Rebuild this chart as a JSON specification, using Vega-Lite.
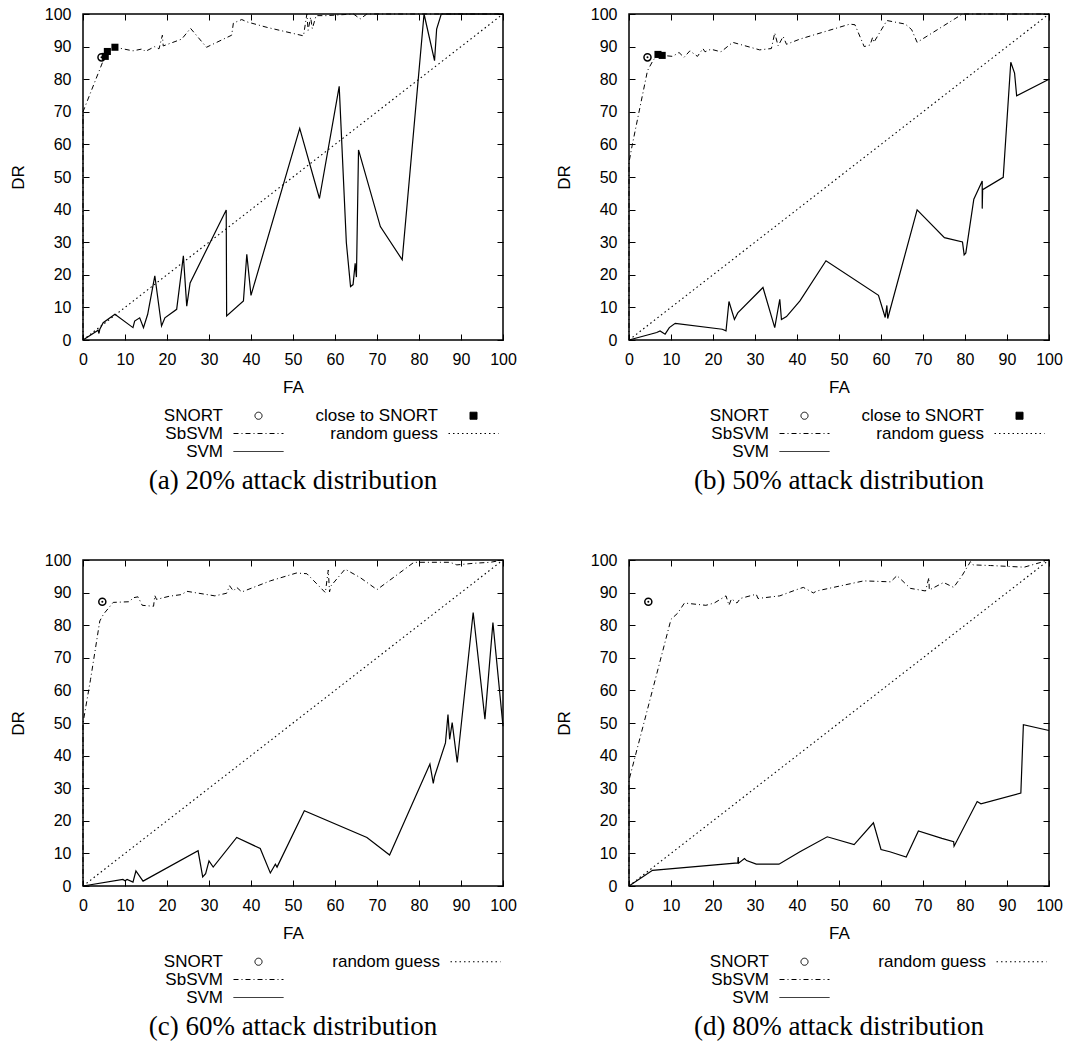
{
"$schema": "https://vega.github.io/schema/vega-lite/v6.json",
"background": "white",
"padding": {"left": 8, "top": 5, "right": 5, "bottom": 5},
"config": {
  "view": {"stroke": "black", "strokeWidth": 1.5},
  "axis": {"domain": false, "grid": false, "tickSize": -6, "tickColor": "black", "tickWidth": 1, "tickCount": 10,
    "labelFont": "Liberation Sans", "labelFontSize": 16, "labelColor": "black", "labelFlush": false, "labelOverlap": false,
    "titleFont": "Liberation Sans", "titleFontSize": 17, "titleFontWeight": "normal", "titleColor": "black"},
  "axisX": {"labelPadding": 17, "titlePadding": 12},
  "axisY": {"labelPadding": 18, "titlePadding": 17},
  "title": {"font": "Liberation Serif", "fontSize": 27, "fontWeight": "normal", "color": "black", "orient": "bottom", "frame": "group", "anchor": "middle", "offset": 8},
  "legend": {"orient": "none", "legendX": 167, "legendY": 393, "columns": 2, "title": null, "padding": 0,
    "labelFont": "Liberation Sans", "labelFontSize": 17, "labelColor": "black", "labelAlign": "right", "labelOffset": -44, "labelLimit": 300,
    "symbolSize": 50, "symbolOffset": 0, "rowPadding": 0, "columnPadding": 29}
},
"data": {"values": [
{"p":"a","s":"random guess","fa":0,"dr":0},{"p":"a","s":"random guess","fa":100,"dr":100},
{"p":"b","s":"random guess","fa":0,"dr":0},{"p":"b","s":"random guess","fa":100,"dr":100},
{"p":"c","s":"random guess","fa":0,"dr":0},{"p":"c","s":"random guess","fa":100,"dr":100},
{"p":"d","s":"random guess","fa":0,"dr":0},{"p":"d","s":"random guess","fa":100,"dr":100},
{"p":"a","s":"SNORT","fa":4.4,"dr":86.7},{"p":"b","s":"SNORT","fa":4.4,"dr":86.7},{"p":"c","s":"SNORT","fa":4.6,"dr":87.2},{"p":"d","s":"SNORT","fa":4.6,"dr":87.2},
{"p":"a","s":"close to SNORT","fa":5.3,"dr":87},{"p":"a","s":"close to SNORT","fa":5.8,"dr":88.5},{"p":"a","s":"close to SNORT","fa":7.6,"dr":89.8},
{"p":"b","s":"close to SNORT","fa":6.9,"dr":87.6},{"p":"b","s":"close to SNORT","fa":7.9,"dr":87.3},
{"p":"a","s":"SbSVM","fa":0,"dr":0},{"p":"a","s":"SbSVM","fa":0,"dr":70},{"p":"a","s":"SbSVM","fa":4.6,"dr":85},{"p":"a","s":"SbSVM","fa":5.3,"dr":87},{"p":"a","s":"SbSVM","fa":5.8,"dr":88.5},{"p":"a","s":"SbSVM","fa":7.6,"dr":89.8},{"p":"a","s":"SbSVM","fa":11.9,"dr":88.7},{"p":"a","s":"SbSVM","fa":14.2,"dr":89.3},{"p":"a","s":"SbSVM","fa":14.8,"dr":88.5},{"p":"a","s":"SbSVM","fa":17.1,"dr":90},{"p":"a","s":"SbSVM","fa":18.1,"dr":89.3},{"p":"a","s":"SbSVM","fa":18.9,"dr":93.5},{"p":"a","s":"SbSVM","fa":19.1,"dr":90.2},{"p":"a","s":"SbSVM","fa":23.5,"dr":92.3},{"p":"a","s":"SbSVM","fa":25.6,"dr":95.6},{"p":"a","s":"SbSVM","fa":29.4,"dr":89.8},{"p":"a","s":"SbSVM","fa":35.4,"dr":93.5},{"p":"a","s":"SbSVM","fa":35.8,"dr":97.2},{"p":"a","s":"SbSVM","fa":37.8,"dr":98.3},{"p":"a","s":"SbSVM","fa":39,"dr":97.6},{"p":"a","s":"SbSVM","fa":43.8,"dr":95.9},{"p":"a","s":"SbSVM","fa":52.5,"dr":93.3},{"p":"a","s":"SbSVM","fa":53.3,"dr":100},{"p":"a","s":"SbSVM","fa":53.6,"dr":95},{"p":"a","s":"SbSVM","fa":54.2,"dr":99},{"p":"a","s":"SbSVM","fa":54.6,"dr":95.5},{"p":"a","s":"SbSVM","fa":55.5,"dr":99.5},{"p":"a","s":"SbSVM","fa":58,"dr":99.5},{"p":"a","s":"SbSVM","fa":64.4,"dr":100},{"p":"a","s":"SbSVM","fa":66,"dr":98.5},{"p":"a","s":"SbSVM","fa":67.6,"dr":100},{"p":"a","s":"SbSVM","fa":100,"dr":100},
{"p":"a","s":"SVM","fa":0,"dr":0},{"p":"a","s":"SVM","fa":3.6,"dr":3},{"p":"a","s":"SVM","fa":3.8,"dr":2},{"p":"a","s":"SVM","fa":4,"dr":3.3},{"p":"a","s":"SVM","fa":4.8,"dr":5.3},{"p":"a","s":"SVM","fa":7.6,"dr":7.9},{"p":"a","s":"SVM","fa":11.9,"dr":3.8},{"p":"a","s":"SVM","fa":12.3,"dr":5.8},{"p":"a","s":"SVM","fa":13.5,"dr":6.8},{"p":"a","s":"SVM","fa":14.4,"dr":3.8},{"p":"a","s":"SVM","fa":15.4,"dr":7.9},{"p":"a","s":"SVM","fa":17.1,"dr":19.7},{"p":"a","s":"SVM","fa":18.7,"dr":4.3},{"p":"a","s":"SVM","fa":19.5,"dr":6.8},{"p":"a","s":"SVM","fa":22.3,"dr":9.4},{"p":"a","s":"SVM","fa":23.9,"dr":25.8},{"p":"a","s":"SVM","fa":24.7,"dr":10.4},{"p":"a","s":"SVM","fa":25.5,"dr":17.5},{"p":"a","s":"SVM","fa":34.1,"dr":39.9},{"p":"a","s":"SVM","fa":34.2,"dr":7.4},{"p":"a","s":"SVM","fa":38.2,"dr":12},{"p":"a","s":"SVM","fa":39,"dr":26.3},{"p":"a","s":"SVM","fa":40,"dr":13.7},{"p":"a","s":"SVM","fa":51.6,"dr":64.9},{"p":"a","s":"SVM","fa":56.3,"dr":43.4},{"p":"a","s":"SVM","fa":61,"dr":77.8},{"p":"a","s":"SVM","fa":62.7,"dr":29.9},{"p":"a","s":"SVM","fa":63.7,"dr":16.4},{"p":"a","s":"SVM","fa":64.3,"dr":17},{"p":"a","s":"SVM","fa":64.8,"dr":23.5},{"p":"a","s":"SVM","fa":65.1,"dr":19.3},{"p":"a","s":"SVM","fa":65.6,"dr":58.3},{"p":"a","s":"SVM","fa":70.8,"dr":34.8},{"p":"a","s":"SVM","fa":76,"dr":24.6},{"p":"a","s":"SVM","fa":81.2,"dr":100},{"p":"a","s":"SVM","fa":83.7,"dr":85.7},{"p":"a","s":"SVM","fa":84.2,"dr":95.4},{"p":"a","s":"SVM","fa":85.3,"dr":100},{"p":"a","s":"SVM","fa":100,"dr":100},
{"p":"b","s":"SbSVM","fa":0,"dr":0},{"p":"b","s":"SbSVM","fa":0,"dr":54.5},{"p":"b","s":"SbSVM","fa":0.8,"dr":60},{"p":"b","s":"SbSVM","fa":4.4,"dr":82.6},{"p":"b","s":"SbSVM","fa":5.7,"dr":85.7},{"p":"b","s":"SbSVM","fa":6.9,"dr":87.6},{"p":"b","s":"SbSVM","fa":7.9,"dr":87.3},{"p":"b","s":"SbSVM","fa":10.4,"dr":87},{"p":"b","s":"SbSVM","fa":11.9,"dr":88.2},{"p":"b","s":"SbSVM","fa":13.1,"dr":86.7},{"p":"b","s":"SbSVM","fa":14.5,"dr":88.7},{"p":"b","s":"SbSVM","fa":16.3,"dr":87},{"p":"b","s":"SbSVM","fa":17.6,"dr":89.4},{"p":"b","s":"SbSVM","fa":18.1,"dr":88.4},{"p":"b","s":"SbSVM","fa":19.5,"dr":89.2},{"p":"b","s":"SbSVM","fa":21.9,"dr":88.4},{"p":"b","s":"SbSVM","fa":24.7,"dr":91.3},{"p":"b","s":"SbSVM","fa":31.1,"dr":89},{"p":"b","s":"SbSVM","fa":33.9,"dr":89.4},{"p":"b","s":"SbSVM","fa":34.7,"dr":94.2},{"p":"b","s":"SbSVM","fa":35.5,"dr":90.2},{"p":"b","s":"SbSVM","fa":36.7,"dr":93.1},{"p":"b","s":"SbSVM","fa":37.5,"dr":90.7},{"p":"b","s":"SbSVM","fa":40.7,"dr":92.3},{"p":"b","s":"SbSVM","fa":52.6,"dr":96.9},{"p":"b","s":"SbSVM","fa":53.8,"dr":96.7},{"p":"b","s":"SbSVM","fa":56,"dr":90},{"p":"b","s":"SbSVM","fa":57.4,"dr":90.5},{"p":"b","s":"SbSVM","fa":58,"dr":92.8},{"p":"b","s":"SbSVM","fa":58.3,"dr":91.3},{"p":"b","s":"SbSVM","fa":61.4,"dr":98},{"p":"b","s":"SbSVM","fa":65.8,"dr":96.9},{"p":"b","s":"SbSVM","fa":67.3,"dr":95.2},{"p":"b","s":"SbSVM","fa":68.6,"dr":91.3},{"p":"b","s":"SbSVM","fa":79.4,"dr":100},{"p":"b","s":"SbSVM","fa":100,"dr":100},
{"p":"b","s":"SVM","fa":0,"dr":0},{"p":"b","s":"SVM","fa":6.6,"dr":2.3},{"p":"b","s":"SVM","fa":7.4,"dr":2.8},{"p":"b","s":"SVM","fa":8.6,"dr":1.8},{"p":"b","s":"SVM","fa":9.6,"dr":3.8},{"p":"b","s":"SVM","fa":11,"dr":5.1},{"p":"b","s":"SVM","fa":22.2,"dr":3.3},{"p":"b","s":"SVM","fa":23.1,"dr":2.8},{"p":"b","s":"SVM","fa":23.8,"dr":11.8},{"p":"b","s":"SVM","fa":25.1,"dr":6.3},{"p":"b","s":"SVM","fa":25.9,"dr":8.3},{"p":"b","s":"SVM","fa":31.9,"dr":16.1},{"p":"b","s":"SVM","fa":34.7,"dr":3.8},{"p":"b","s":"SVM","fa":35.9,"dr":12.5},{"p":"b","s":"SVM","fa":36.3,"dr":6.3},{"p":"b","s":"SVM","fa":37.5,"dr":7.2},{"p":"b","s":"SVM","fa":40.7,"dr":12},{"p":"b","s":"SVM","fa":46.9,"dr":24.3},{"p":"b","s":"SVM","fa":59.4,"dr":13.7},{"p":"b","s":"SVM","fa":61,"dr":6.9},{"p":"b","s":"SVM","fa":61.4,"dr":10.6},{"p":"b","s":"SVM","fa":61.6,"dr":6.6},{"p":"b","s":"SVM","fa":68.6,"dr":39.9},{"p":"b","s":"SVM","fa":75.1,"dr":31.4},{"p":"b","s":"SVM","fa":79.4,"dr":30.1},{"p":"b","s":"SVM","fa":79.8,"dr":26.1},{"p":"b","s":"SVM","fa":80.2,"dr":26.7},{"p":"b","s":"SVM","fa":82.1,"dr":43.2},{"p":"b","s":"SVM","fa":84.1,"dr":48.8},{"p":"b","s":"SVM","fa":84.1,"dr":40.3},{"p":"b","s":"SVM","fa":84.2,"dr":46.1},{"p":"b","s":"SVM","fa":89.1,"dr":49.9},{"p":"b","s":"SVM","fa":90.9,"dr":85.2},{"p":"b","s":"SVM","fa":91.8,"dr":81.9},{"p":"b","s":"SVM","fa":92.3,"dr":74.9},{"p":"b","s":"SVM","fa":100,"dr":80},
{"p":"c","s":"SbSVM","fa":0,"dr":0},{"p":"c","s":"SbSVM","fa":0,"dr":50},{"p":"c","s":"SbSVM","fa":1.8,"dr":63.4},{"p":"c","s":"SbSVM","fa":4,"dr":81.3},{"p":"c","s":"SbSVM","fa":4.9,"dr":83.4},{"p":"c","s":"SbSVM","fa":7.2,"dr":87},{"p":"c","s":"SbSVM","fa":11.1,"dr":87.2},{"p":"c","s":"SbSVM","fa":11.9,"dr":88.4},{"p":"c","s":"SbSVM","fa":13.1,"dr":88.7},{"p":"c","s":"SbSVM","fa":14.1,"dr":86.1},{"p":"c","s":"SbSVM","fa":16.8,"dr":85.8},{"p":"c","s":"SbSVM","fa":17.1,"dr":89.1},{"p":"c","s":"SbSVM","fa":17.5,"dr":87.9},{"p":"c","s":"SbSVM","fa":20.6,"dr":88.9},{"p":"c","s":"SbSVM","fa":23.5,"dr":89.4},{"p":"c","s":"SbSVM","fa":24.7,"dr":90.4},{"p":"c","s":"SbSVM","fa":31.4,"dr":89},{"p":"c","s":"SbSVM","fa":34.2,"dr":89.8},{"p":"c","s":"SbSVM","fa":34.9,"dr":92.1},{"p":"c","s":"SbSVM","fa":35.8,"dr":90.5},{"p":"c","s":"SbSVM","fa":36.6,"dr":91.6},{"p":"c","s":"SbSVM","fa":37.8,"dr":90.2},{"p":"c","s":"SbSVM","fa":44.6,"dr":93.6},{"p":"c","s":"SbSVM","fa":50.8,"dr":96},{"p":"c","s":"SbSVM","fa":53.3,"dr":95.8},{"p":"c","s":"SbSVM","fa":57.7,"dr":90},{"p":"c","s":"SbSVM","fa":58.4,"dr":96.9},{"p":"c","s":"SbSVM","fa":58.7,"dr":90.2},{"p":"c","s":"SbSVM","fa":59,"dr":92},{"p":"c","s":"SbSVM","fa":62.4,"dr":97.2},{"p":"c","s":"SbSVM","fa":66,"dr":94.6},{"p":"c","s":"SbSVM","fa":70,"dr":90.9},{"p":"c","s":"SbSVM","fa":78.8,"dr":99.3},{"p":"c","s":"SbSVM","fa":87.4,"dr":99.3},{"p":"c","s":"SbSVM","fa":89,"dr":98.5},{"p":"c","s":"SbSVM","fa":93.1,"dr":99},{"p":"c","s":"SbSVM","fa":97,"dr":99.3},{"p":"c","s":"SbSVM","fa":100,"dr":100},
{"p":"c","s":"SVM","fa":0,"dr":0},{"p":"c","s":"SVM","fa":9.5,"dr":2},{"p":"c","s":"SVM","fa":10,"dr":1.6},{"p":"c","s":"SVM","fa":10.5,"dr":2},{"p":"c","s":"SVM","fa":11.9,"dr":1.2},{"p":"c","s":"SVM","fa":12.6,"dr":4.6},{"p":"c","s":"SVM","fa":14.3,"dr":1.5},{"p":"c","s":"SVM","fa":27.4,"dr":10.8},{"p":"c","s":"SVM","fa":28.5,"dr":2.8},{"p":"c","s":"SVM","fa":29.2,"dr":3.8},{"p":"c","s":"SVM","fa":30,"dr":7.7},{"p":"c","s":"SVM","fa":31,"dr":5.8},{"p":"c","s":"SVM","fa":36.6,"dr":14.9},{"p":"c","s":"SVM","fa":42.2,"dr":11.5},{"p":"c","s":"SVM","fa":44.6,"dr":4},{"p":"c","s":"SVM","fa":45.8,"dr":6.7},{"p":"c","s":"SVM","fa":46.2,"dr":5.8},{"p":"c","s":"SVM","fa":52.7,"dr":23.1},{"p":"c","s":"SVM","fa":67.6,"dr":14.9},{"p":"c","s":"SVM","fa":73,"dr":9.5},{"p":"c","s":"SVM","fa":82.6,"dr":37.4},{"p":"c","s":"SVM","fa":83.4,"dr":31.5},{"p":"c","s":"SVM","fa":83.7,"dr":33.6},{"p":"c","s":"SVM","fa":86.3,"dr":43.9},{"p":"c","s":"SVM","fa":86.9,"dr":52.6},{"p":"c","s":"SVM","fa":87.3,"dr":45},{"p":"c","s":"SVM","fa":87.9,"dr":50.1},{"p":"c","s":"SVM","fa":89.1,"dr":37.9},{"p":"c","s":"SVM","fa":92.9,"dr":83.9},{"p":"c","s":"SVM","fa":95.7,"dr":51.2},{"p":"c","s":"SVM","fa":97.6,"dr":80.8},{"p":"c","s":"SVM","fa":100,"dr":49},
{"p":"d","s":"SbSVM","fa":0,"dr":0},{"p":"d","s":"SbSVM","fa":0,"dr":32.5},{"p":"d","s":"SbSVM","fa":10,"dr":81.8},{"p":"d","s":"SbSVM","fa":11.6,"dr":83.7},{"p":"d","s":"SbSVM","fa":13.2,"dr":86.8},{"p":"d","s":"SbSVM","fa":18.3,"dr":86.1},{"p":"d","s":"SbSVM","fa":20.3,"dr":86.8},{"p":"d","s":"SbSVM","fa":23.1,"dr":89},{"p":"d","s":"SbSVM","fa":23.8,"dr":86.1},{"p":"d","s":"SbSVM","fa":24.4,"dr":88.1},{"p":"d","s":"SbSVM","fa":25.7,"dr":86.8},{"p":"d","s":"SbSVM","fa":26.5,"dr":88.2},{"p":"d","s":"SbSVM","fa":30.3,"dr":89.5},{"p":"d","s":"SbSVM","fa":30.7,"dr":88.2},{"p":"d","s":"SbSVM","fa":35.9,"dr":89},{"p":"d","s":"SbSVM","fa":39.9,"dr":90.9},{"p":"d","s":"SbSVM","fa":41.5,"dr":91.6},{"p":"d","s":"SbSVM","fa":43.9,"dr":89.9},{"p":"d","s":"SbSVM","fa":44.7,"dr":90.5},{"p":"d","s":"SbSVM","fa":55.9,"dr":93.6},{"p":"d","s":"SbSVM","fa":62.3,"dr":93.3},{"p":"d","s":"SbSVM","fa":63.8,"dr":95.2},{"p":"d","s":"SbSVM","fa":67,"dr":91.3},{"p":"d","s":"SbSVM","fa":70.6,"dr":90.5},{"p":"d","s":"SbSVM","fa":71.4,"dr":94.6},{"p":"d","s":"SbSVM","fa":71.5,"dr":90.8},{"p":"d","s":"SbSVM","fa":74.9,"dr":93.1},{"p":"d","s":"SbSVM","fa":77.3,"dr":91.6},{"p":"d","s":"SbSVM","fa":79.3,"dr":95.2},{"p":"d","s":"SbSVM","fa":81.3,"dr":99.5},{"p":"d","s":"SbSVM","fa":81.9,"dr":98.5},{"p":"d","s":"SbSVM","fa":86.1,"dr":98.3},{"p":"d","s":"SbSVM","fa":94.1,"dr":97.8},{"p":"d","s":"SbSVM","fa":100,"dr":100},
{"p":"d","s":"SVM","fa":0,"dr":0},{"p":"d","s":"SVM","fa":5.6,"dr":4.8},{"p":"d","s":"SVM","fa":25.9,"dr":7.1},{"p":"d","s":"SVM","fa":26,"dr":8.9},{"p":"d","s":"SVM","fa":26.1,"dr":7},{"p":"d","s":"SVM","fa":27.5,"dr":8.4},{"p":"d","s":"SVM","fa":28,"dr":7.8},{"p":"d","s":"SVM","fa":30.3,"dr":6.7},{"p":"d","s":"SVM","fa":35.7,"dr":6.7},{"p":"d","s":"SVM","fa":40.7,"dr":10.5},{"p":"d","s":"SVM","fa":47.2,"dr":15.1},{"p":"d","s":"SVM","fa":53.6,"dr":12.7},{"p":"d","s":"SVM","fa":58.2,"dr":19.4},{"p":"d","s":"SVM","fa":60,"dr":11.2},{"p":"d","s":"SVM","fa":62.1,"dr":10.5},{"p":"d","s":"SVM","fa":66,"dr":8.9},{"p":"d","s":"SVM","fa":68.9,"dr":16.9},{"p":"d","s":"SVM","fa":74.5,"dr":14.6},{"p":"d","s":"SVM","fa":77.3,"dr":13.6},{"p":"d","s":"SVM","fa":77.4,"dr":12.2},{"p":"d","s":"SVM","fa":82.9,"dr":25.9},{"p":"d","s":"SVM","fa":83.8,"dr":25.2},{"p":"d","s":"SVM","fa":93.3,"dr":28.5},{"p":"d","s":"SVM","fa":93.9,"dr":49.5},{"p":"d","s":"SVM","fa":100,"dr":47.7}
]},
"columns": 2,
"spacing": {"row": 56, "column": 36},
"resolve": {"scale": {"color": "independent"}, "legend": {"color": "independent"}},
"concat": [
 {"width": 420, "height": 326, "title": {"text": "(a) 20% attack distribution"},
  "transform": [{"filter": "datum.p === 'a'"}],
  "resolve": {"axis": {"x": "independent", "y": "independent"}},
  "layer": [
   {"transform": [{"filter": "datum.s === 'random guess'"}], "mark": {"type": "line", "strokeDash": [1.5, 3], "strokeWidth": 1.1},
    "encoding": {"x": {"field": "fa", "type": "quantitative", "scale": {"domain": [0, 100], "nice": false}, "axis": {"title": "FA", "orient": "bottom"}},
      "y": {"field": "dr", "type": "quantitative", "scale": {"domain": [0, 100], "nice": false}, "axis": {"title": "DR", "orient": "left"}},
      "color": {"field": "s", "type": "nominal", "scale": {"domain": ["SNORT", "SbSVM", "SVM", "close to SNORT", "random guess"], "range": ["black", "black", "black", "black", "black"]},
        "legend": {"columnPadding": 29, "encode": {"symbols": {"update": {
          "shape": {"signal": "datum.value === 'SNORT' ? 'circle' : datum.value === 'close to SNORT' ? 'square' : 'M-7.07,0H7.07'"},
          "strokeDash": {"signal": "datum.value === 'SbSVM' ? [5,3,1,3] : datum.value === 'random guess' ? [1.5,3] : [1,0]"},
          "fill": {"signal": "datum.value === 'close to SNORT' ? 'black' : 'transparent'"},
          "fillOpacity": {"signal": "datum.value === 'close to SNORT' ? 1 : 0"},
          "stroke": {"value": "black"}, "strokeWidth": {"value": 1},
          "opacity": {"signal": "datum.value === '' ? 0 : 1"}}}}}},
      "order": {"value": null}}},
   {"transform": [{"filter": "datum.s === 'SbSVM'"}], "mark": {"type": "line", "strokeDash": [5, 3, 1, 3], "strokeWidth": 1},
    "encoding": {"x": {"field": "fa", "type": "quantitative", "axis": {"orient": "top", "labels": false, "title": null}},
      "y": {"field": "dr", "type": "quantitative", "axis": {"orient": "right", "labels": false, "title": null}},
      "color": {"field": "s", "type": "nominal"}, "order": {"value": null}}},
   {"transform": [{"filter": "datum.s === 'SVM'"}], "mark": {"type": "line", "strokeWidth": 1.2},
    "encoding": {"x": {"field": "fa", "type": "quantitative", "axis": null}, "y": {"field": "dr", "type": "quantitative", "axis": null},
      "color": {"field": "s", "type": "nominal"}, "order": {"value": null}}},
   {"transform": [{"filter": "datum.s === 'SNORT'"}], "mark": {"type": "point", "shape": "circle", "filled": false, "size": 50, "strokeWidth": 1.5, "opacity": 1},
    "encoding": {"x": {"field": "fa", "type": "quantitative", "axis": null}, "y": {"field": "dr", "type": "quantitative", "axis": null}, "color": {"field": "s", "type": "nominal"}}},
   {"transform": [{"filter": "datum.s === 'SNORT'"}], "mark": {"type": "point", "shape": "circle", "filled": true, "size": 4, "opacity": 1},
    "encoding": {"x": {"field": "fa", "type": "quantitative", "axis": null}, "y": {"field": "dr", "type": "quantitative", "axis": null}, "color": {"field": "s", "type": "nominal"}}},
   {"transform": [{"filter": "datum.s === 'close to SNORT'"}], "mark": {"type": "point", "shape": "square", "filled": true, "size": 50, "opacity": 1},
    "encoding": {"x": {"field": "fa", "type": "quantitative", "axis": null}, "y": {"field": "dr", "type": "quantitative", "axis": null}, "color": {"field": "s", "type": "nominal"}}}
  ]},
 {"width": 420, "height": 326, "title": {"text": "(b) 50% attack distribution"},
  "transform": [{"filter": "datum.p === 'b'"}],
  "resolve": {"axis": {"x": "independent", "y": "independent"}},
  "layer": [
   {"transform": [{"filter": "datum.s === 'random guess'"}], "mark": {"type": "line", "strokeDash": [1.5, 3], "strokeWidth": 1.1},
    "encoding": {"x": {"field": "fa", "type": "quantitative", "scale": {"domain": [0, 100], "nice": false}, "axis": {"title": "FA", "orient": "bottom"}},
      "y": {"field": "dr", "type": "quantitative", "scale": {"domain": [0, 100], "nice": false}, "axis": {"title": "DR", "orient": "left"}},
      "color": {"field": "s", "type": "nominal", "scale": {"domain": ["SNORT", "SbSVM", "SVM", "close to SNORT", "random guess"], "range": ["black", "black", "black", "black", "black"]},
        "legend": {"columnPadding": 29, "encode": {"symbols": {"update": {
          "shape": {"signal": "datum.value === 'SNORT' ? 'circle' : datum.value === 'close to SNORT' ? 'square' : 'M-7.07,0H7.07'"},
          "strokeDash": {"signal": "datum.value === 'SbSVM' ? [5,3,1,3] : datum.value === 'random guess' ? [1.5,3] : [1,0]"},
          "fill": {"signal": "datum.value === 'close to SNORT' ? 'black' : 'transparent'"},
          "fillOpacity": {"signal": "datum.value === 'close to SNORT' ? 1 : 0"},
          "stroke": {"value": "black"}, "strokeWidth": {"value": 1},
          "opacity": {"signal": "datum.value === '' ? 0 : 1"}}}}}},
      "order": {"value": null}}},
   {"transform": [{"filter": "datum.s === 'SbSVM'"}], "mark": {"type": "line", "strokeDash": [5, 3, 1, 3], "strokeWidth": 1},
    "encoding": {"x": {"field": "fa", "type": "quantitative", "axis": {"orient": "top", "labels": false, "title": null}},
      "y": {"field": "dr", "type": "quantitative", "axis": {"orient": "right", "labels": false, "title": null}},
      "color": {"field": "s", "type": "nominal"}, "order": {"value": null}}},
   {"transform": [{"filter": "datum.s === 'SVM'"}], "mark": {"type": "line", "strokeWidth": 1.2},
    "encoding": {"x": {"field": "fa", "type": "quantitative", "axis": null}, "y": {"field": "dr", "type": "quantitative", "axis": null},
      "color": {"field": "s", "type": "nominal"}, "order": {"value": null}}},
   {"transform": [{"filter": "datum.s === 'SNORT'"}], "mark": {"type": "point", "shape": "circle", "filled": false, "size": 50, "strokeWidth": 1.5, "opacity": 1},
    "encoding": {"x": {"field": "fa", "type": "quantitative", "axis": null}, "y": {"field": "dr", "type": "quantitative", "axis": null}, "color": {"field": "s", "type": "nominal"}}},
   {"transform": [{"filter": "datum.s === 'SNORT'"}], "mark": {"type": "point", "shape": "circle", "filled": true, "size": 4, "opacity": 1},
    "encoding": {"x": {"field": "fa", "type": "quantitative", "axis": null}, "y": {"field": "dr", "type": "quantitative", "axis": null}, "color": {"field": "s", "type": "nominal"}}},
   {"transform": [{"filter": "datum.s === 'close to SNORT'"}], "mark": {"type": "point", "shape": "square", "filled": true, "size": 50, "opacity": 1},
    "encoding": {"x": {"field": "fa", "type": "quantitative", "axis": null}, "y": {"field": "dr", "type": "quantitative", "axis": null}, "color": {"field": "s", "type": "nominal"}}}
  ]},
 {"width": 420, "height": 326, "title": {"text": "(c) 60% attack distribution"},
  "transform": [{"filter": "datum.p === 'c'"}],
  "resolve": {"axis": {"x": "independent", "y": "independent"}},
  "layer": [
   {"transform": [{"filter": "datum.s === 'random guess'"}], "mark": {"type": "line", "strokeDash": [1.5, 3], "strokeWidth": 1.1},
    "encoding": {"x": {"field": "fa", "type": "quantitative", "scale": {"domain": [0, 100], "nice": false}, "axis": {"title": "FA", "orient": "bottom"}},
      "y": {"field": "dr", "type": "quantitative", "scale": {"domain": [0, 100], "nice": false}, "axis": {"title": "DR", "orient": "left"}},
      "color": {"field": "s", "type": "nominal", "scale": {"domain": ["SNORT", "SbSVM", "SVM", "random guess", ""], "range": ["black", "black", "black", "black", "black"]},
        "legend": {"columnPadding": 46, "encode": {"symbols": {"update": {
          "shape": {"signal": "datum.value === 'SNORT' ? 'circle' : datum.value === 'close to SNORT' ? 'square' : 'M-7.07,0H7.07'"},
          "strokeDash": {"signal": "datum.value === 'SbSVM' ? [5,3,1,3] : datum.value === 'random guess' ? [1.5,3] : [1,0]"},
          "fill": {"signal": "datum.value === 'close to SNORT' ? 'black' : 'transparent'"},
          "fillOpacity": {"signal": "datum.value === 'close to SNORT' ? 1 : 0"},
          "stroke": {"value": "black"}, "strokeWidth": {"value": 1},
          "opacity": {"signal": "datum.value === '' ? 0 : 1"}}}}}},
      "order": {"value": null}}},
   {"transform": [{"filter": "datum.s === 'SbSVM'"}], "mark": {"type": "line", "strokeDash": [5, 3, 1, 3], "strokeWidth": 1},
    "encoding": {"x": {"field": "fa", "type": "quantitative", "axis": {"orient": "top", "labels": false, "title": null}},
      "y": {"field": "dr", "type": "quantitative", "axis": {"orient": "right", "labels": false, "title": null}},
      "color": {"field": "s", "type": "nominal"}, "order": {"value": null}}},
   {"transform": [{"filter": "datum.s === 'SVM'"}], "mark": {"type": "line", "strokeWidth": 1.2},
    "encoding": {"x": {"field": "fa", "type": "quantitative", "axis": null}, "y": {"field": "dr", "type": "quantitative", "axis": null},
      "color": {"field": "s", "type": "nominal"}, "order": {"value": null}}},
   {"transform": [{"filter": "datum.s === 'SNORT'"}], "mark": {"type": "point", "shape": "circle", "filled": false, "size": 50, "strokeWidth": 1.5, "opacity": 1},
    "encoding": {"x": {"field": "fa", "type": "quantitative", "axis": null}, "y": {"field": "dr", "type": "quantitative", "axis": null}, "color": {"field": "s", "type": "nominal"}}},
   {"transform": [{"filter": "datum.s === 'SNORT'"}], "mark": {"type": "point", "shape": "circle", "filled": true, "size": 4, "opacity": 1},
    "encoding": {"x": {"field": "fa", "type": "quantitative", "axis": null}, "y": {"field": "dr", "type": "quantitative", "axis": null}, "color": {"field": "s", "type": "nominal"}}}
  ]},
 {"width": 420, "height": 326, "title": {"text": "(d) 80% attack distribution"},
  "transform": [{"filter": "datum.p === 'd'"}],
  "resolve": {"axis": {"x": "independent", "y": "independent"}},
  "layer": [
   {"transform": [{"filter": "datum.s === 'random guess'"}], "mark": {"type": "line", "strokeDash": [1.5, 3], "strokeWidth": 1.1},
    "encoding": {"x": {"field": "fa", "type": "quantitative", "scale": {"domain": [0, 100], "nice": false}, "axis": {"title": "FA", "orient": "bottom"}},
      "y": {"field": "dr", "type": "quantitative", "scale": {"domain": [0, 100], "nice": false}, "axis": {"title": "DR", "orient": "left"}},
      "color": {"field": "s", "type": "nominal", "scale": {"domain": ["SNORT", "SbSVM", "SVM", "random guess", ""], "range": ["black", "black", "black", "black", "black"]},
        "legend": {"columnPadding": 46, "encode": {"symbols": {"update": {
          "shape": {"signal": "datum.value === 'SNORT' ? 'circle' : datum.value === 'close to SNORT' ? 'square' : 'M-7.07,0H7.07'"},
          "strokeDash": {"signal": "datum.value === 'SbSVM' ? [5,3,1,3] : datum.value === 'random guess' ? [1.5,3] : [1,0]"},
          "fill": {"signal": "datum.value === 'close to SNORT' ? 'black' : 'transparent'"},
          "fillOpacity": {"signal": "datum.value === 'close to SNORT' ? 1 : 0"},
          "stroke": {"value": "black"}, "strokeWidth": {"value": 1},
          "opacity": {"signal": "datum.value === '' ? 0 : 1"}}}}}},
      "order": {"value": null}}},
   {"transform": [{"filter": "datum.s === 'SbSVM'"}], "mark": {"type": "line", "strokeDash": [5, 3, 1, 3], "strokeWidth": 1},
    "encoding": {"x": {"field": "fa", "type": "quantitative", "axis": {"orient": "top", "labels": false, "title": null}},
      "y": {"field": "dr", "type": "quantitative", "axis": {"orient": "right", "labels": false, "title": null}},
      "color": {"field": "s", "type": "nominal"}, "order": {"value": null}}},
   {"transform": [{"filter": "datum.s === 'SVM'"}], "mark": {"type": "line", "strokeWidth": 1.2},
    "encoding": {"x": {"field": "fa", "type": "quantitative", "axis": null}, "y": {"field": "dr", "type": "quantitative", "axis": null},
      "color": {"field": "s", "type": "nominal"}, "order": {"value": null}}},
   {"transform": [{"filter": "datum.s === 'SNORT'"}], "mark": {"type": "point", "shape": "circle", "filled": false, "size": 50, "strokeWidth": 1.5, "opacity": 1},
    "encoding": {"x": {"field": "fa", "type": "quantitative", "axis": null}, "y": {"field": "dr", "type": "quantitative", "axis": null}, "color": {"field": "s", "type": "nominal"}}},
   {"transform": [{"filter": "datum.s === 'SNORT'"}], "mark": {"type": "point", "shape": "circle", "filled": true, "size": 4, "opacity": 1},
    "encoding": {"x": {"field": "fa", "type": "quantitative", "axis": null}, "y": {"field": "dr", "type": "quantitative", "axis": null}, "color": {"field": "s", "type": "nominal"}}}
  ]}
]
}
